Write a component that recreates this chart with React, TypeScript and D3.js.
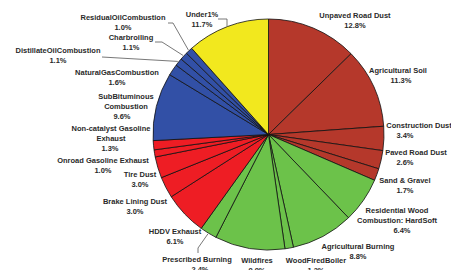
import React from 'react';
import * as d3 from 'd3';

// slices clockwise from 12 o'clock
const categories = [
  'Unpaved Road Dust', 'Agricultural Soil', 'Construction Dust', 'Paved Road Dust', 'Sand & Gravel',
  'Residential Wood\nCombustion: HardSoft', 'Agricultural Burning', 'WoodFiredBoiler', 'Wildfires', 'Prescribed Burning',
  'HDDV Exhaust', 'Brake Lining Dust', 'Tire Dust', 'Onroad Gasoline Exhaust', 'Non-catalyst Gasoline\nExhaust',
  'SubBituminous\nCombustion', 'NaturalGasCombustion', 'DistillateOilCombustion', 'Charbroiling', 'ResidualOilCombustion',
  'Under1%',
];
const values = [
  12.8, 11.3, 3.4, 2.6, 1.7,
  6.4, 8.8, 1.2, 9.9, 2.4,
  6.1, 3.0, 3.0, 1.0, 1.3,
  9.6, 1.6, 1.1, 1.1, 1.0,
  11.7,
];
const groups = [
  'dust', 'dust', 'dust', 'dust', 'dust',
  'burn', 'burn', 'burn', 'burn', 'burn',
  'mobile', 'mobile', 'mobile', 'mobile', 'mobile',
  'comb', 'comb', 'comb', 'comb', 'comb',
  'other',
];

const groupColor = {
  dust: '#B5382B',
  burn: '#6CC24A',
  mobile: '#EE1D24',
  comb: '#3250A6',
  other: '#F2E81E',
};

// label placement: centre x, centre y of first line, optional x of the % line
const labelPos = {
  'Unpaved Road Dust': [355, 15],
  'Agricultural Soil': [398, 70, 401],
  'Construction Dust': [419, 125, 405],
  'Paved Road Dust': [416, 152, 405],
  'Sand & Gravel': [405, 180],
  'Residential Wood\nCombustion: HardSoft': [397, 210, 402],
  'Agricultural Burning': [358, 246],
  'WoodFiredBoiler': [316, 260],
  'Wildfires': [257, 260],
  'Prescribed Burning': [197, 259, 200],
  'HDDV Exhaust': [175, 231],
  'Brake Lining Dust': [135, 201],
  'Tire Dust': [140, 174],
  'Onroad Gasoline Exhaust': [103, 160],
  'Non-catalyst Gasoline\nExhaust': [111, 128, 110],
  'SubBituminous\nCombustion': [126, 96, 122],
  'NaturalGasCombustion': [117, 72],
  'DistillateOilCombustion': [58, 50],
  'Charbroiling': [131, 37],
  'ResidualOilCombustion': [123, 17],
  'Under1%': [202, 14],
};

// leader lines: points from the label, then end on the slice edge
const leaders = {
  'ResidualOilCombustion': [[168, 23], [173, 23]],
  'Charbroiling': [[155, 42], [162, 42]],
  'DistillateOilCombustion': [[102, 57]],
  'Prescribed Burning': [[198, 253], [198, 248]],
};

const App = () => {
  const width = 451, height = 270;
  const cx = 268.5, cy = 134.5, radius = 115.5;
  const data = categories.map((c, i) => ({ label: c, value: values[i], group: groups[i] }));
  const pie = d3.pie().sort(null).value(d => d.value);
  const arc = d3.arc().innerRadius(0).outerRadius(radius);
  const edge = d3.arc().innerRadius(radius + 1).outerRadius(radius + 1);
  const arcs = pie(data);

  return (
    <svg width={width} height={height} style={{ position: 'absolute', left: 0, top: 0 }}
      fontFamily="Arial, 'Liberation Sans', sans-serif">
      <rect width={width} height={height} fill="#fff" />
      <g transform={`translate(${cx},${cy})`}>
        {arcs.map((a, i) => (
          <path key={i} d={arc(a)} fill={groupColor[a.data.group]} stroke="#111" strokeWidth={0.8} />
        ))}
      </g>
      <g fill="none" stroke="#555" strokeWidth={0.8}>
        <polyline points="218,19 227,19 227,26" />
        {arcs.filter(a => leaders[a.data.label]).map((a, i) => {
          const c = edge.centroid(a);
          const pts = [...leaders[a.data.label], [cx + c[0], cy + c[1]]];
          return <polyline key={i} points={pts.map(p => p.join(',')).join(' ')} />;
        })}
      </g>
      <g fontSize="7.5" fontWeight="bold" fill="#2a2a2a" textAnchor="middle">
        {arcs.map((a, i) => {
          const p = labelPos[a.data.label];
          const lines = a.data.label.split('\n');
          return (
            <g key={i}>
              {lines.map((l, j) => (
                <text key={j} x={p[0]} y={p[1] + 2.7 + j * 10}>{l}</text>
              ))}
              <text x={p[2] ?? p[0]} y={p[1] + 2.7 + lines.length * 10}>{a.data.value.toFixed(1) + '%'}</text>
            </g>
          );
        })}
      </g>
    </svg>
  );
};

export default App;
